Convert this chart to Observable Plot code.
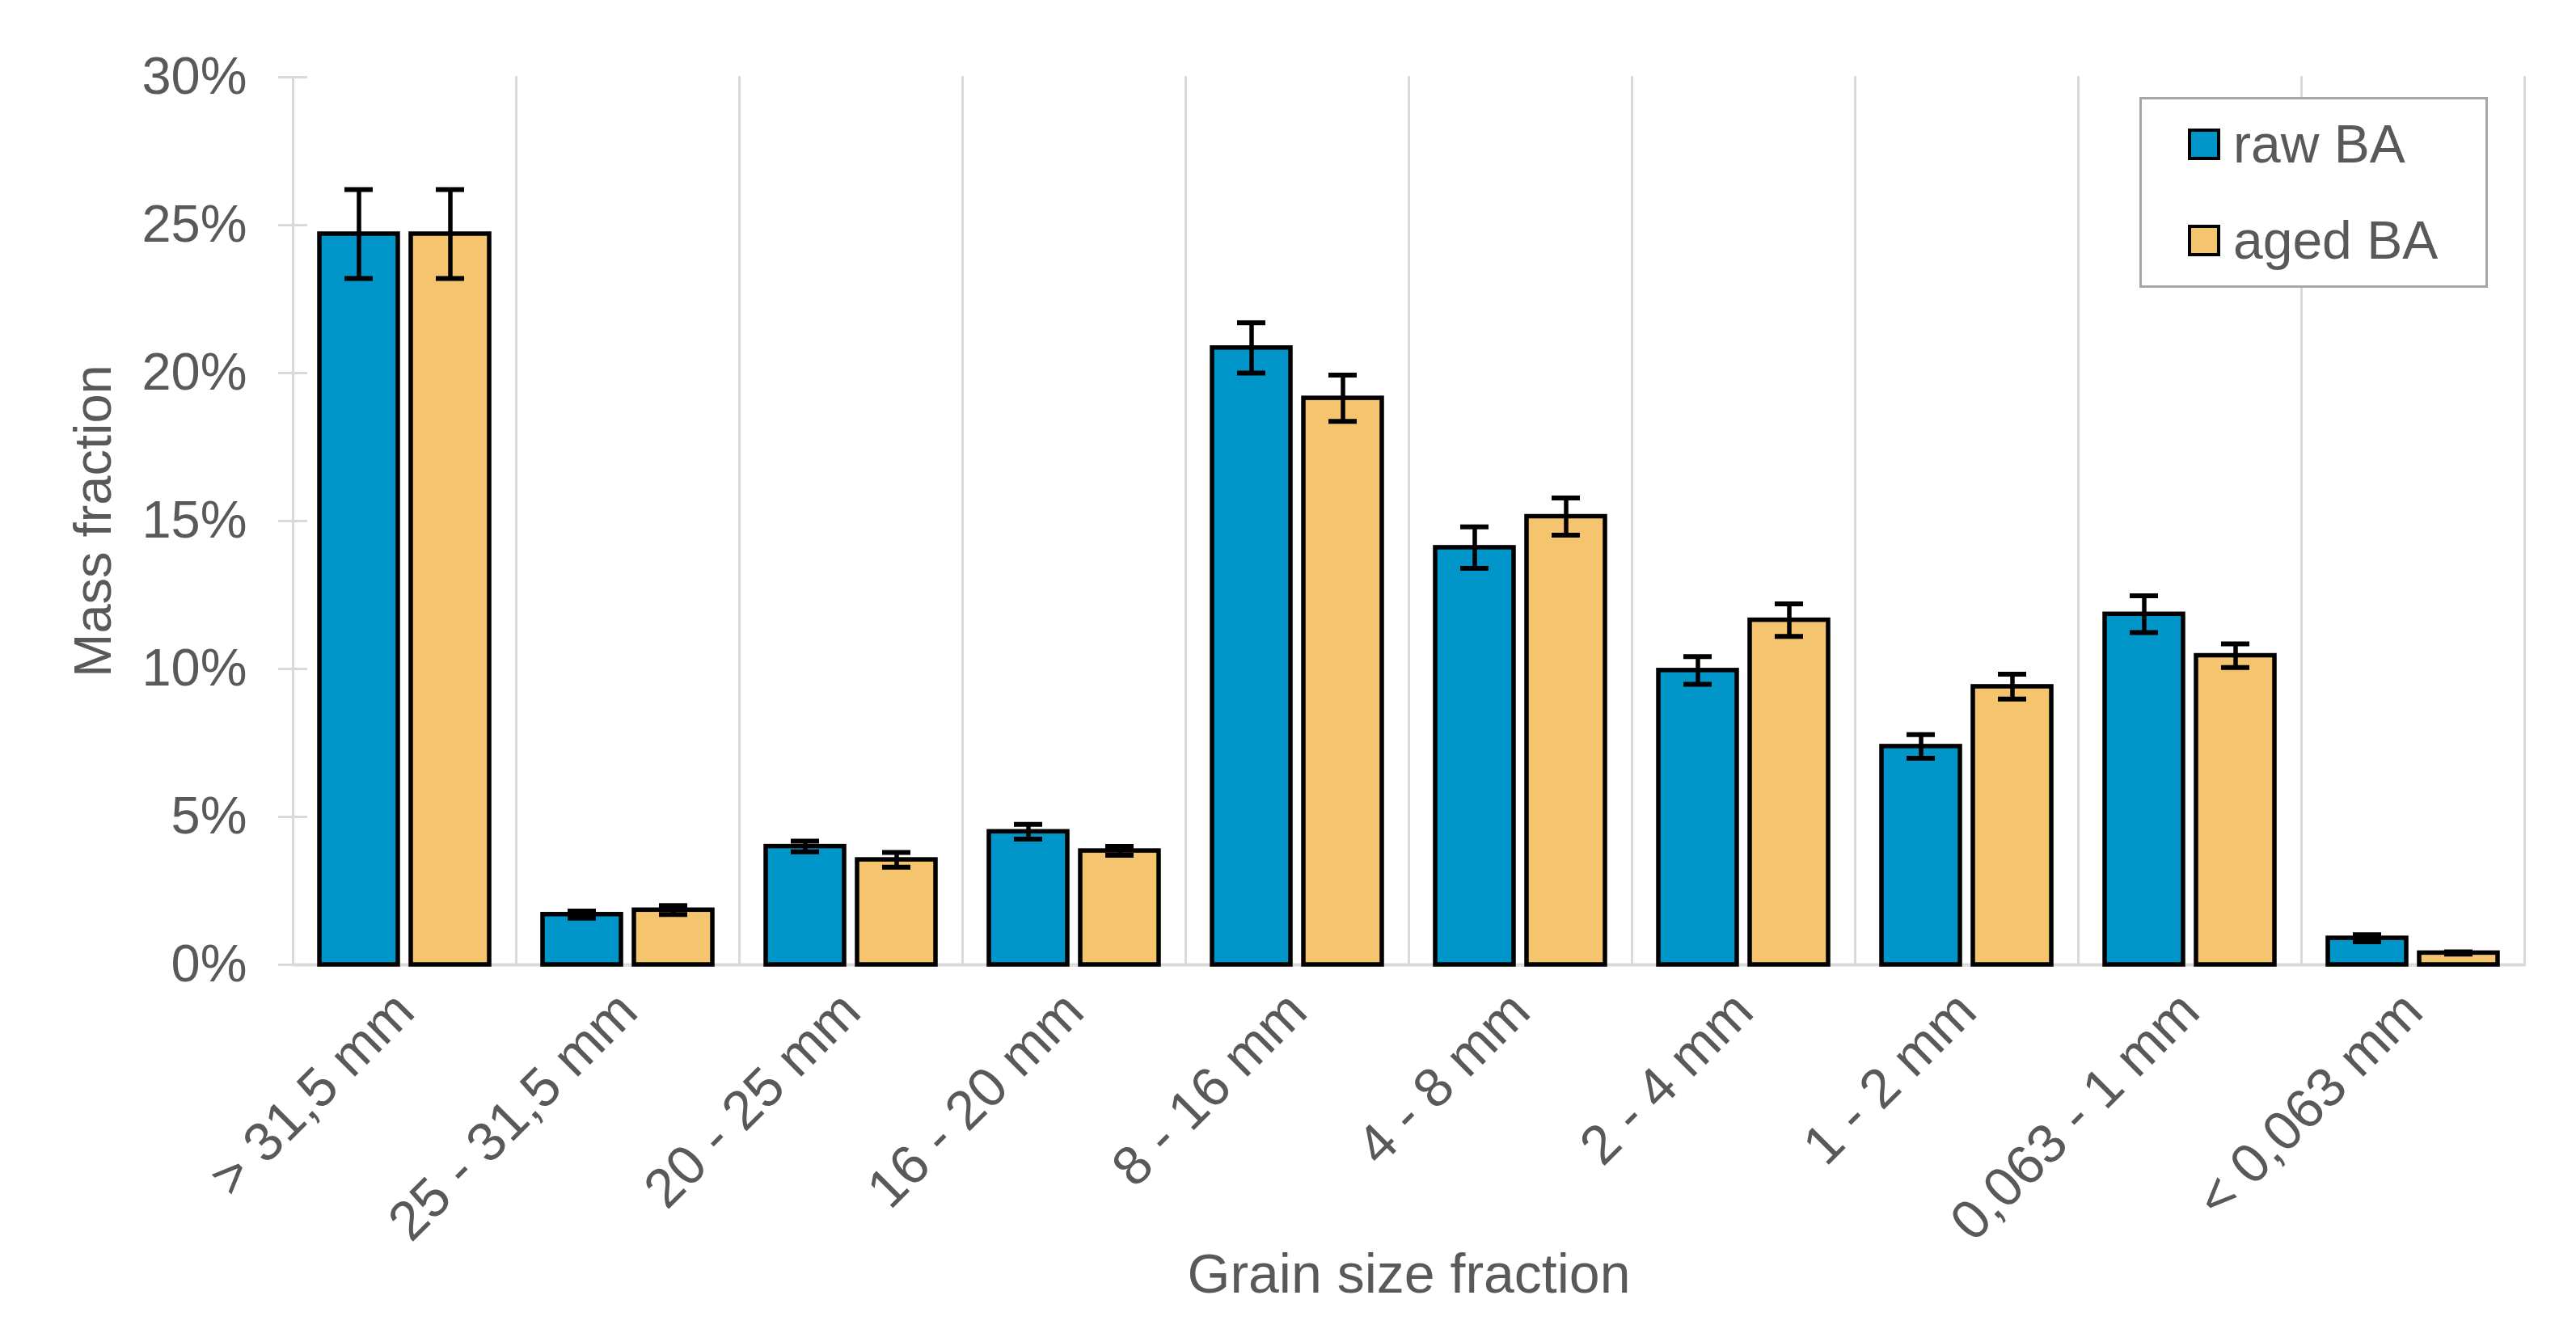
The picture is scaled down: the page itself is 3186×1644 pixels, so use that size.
<!DOCTYPE html>
<html>
<head>
<meta charset="utf-8">
<script src="https://cdn.jsdelivr.net/npm/d3@7"></script>
<script src="https://cdn.jsdelivr.net/npm/@observablehq/plot@0.6"></script>
<style>
  body { margin: 0; background: #fff; }
  #wrap { position: relative; width: 3186px; height: 1644px; }
  .legend { position: absolute; left: 2646px; top: 120px; width: 425px; height: 230px;
    border: 3px solid #a6a6a6; background: #fff;
    font-family: "Liberation Sans", Arial, sans-serif; font-size: 66px; color: #595959; }
  .row { position: absolute; left: 57px; height: 66px; line-height: 66px; white-space: nowrap; }
  .sw { position: absolute; left: 0; width: 32px; height: 31px; border: 4px solid #000; }
  .lbl { position: absolute; left: 56px; top: 0; }
</style>
</head>
<body>
<div id="wrap"></div>
<script>
const categories = ["> 31,5 mm", "25 - 31,5 mm", "20 - 25 mm", "16 - 20 mm", "8 - 16 mm",
                    "4 - 8 mm", "2 - 4 mm", "1 - 2 mm", "0,063 - 1 mm", "< 0,063 mm"];
const series = ["raw BA", "aged BA"];
const seriesColors = ["#0096C9", "#F5C46E"];
const rawValues  = [24.7, 1.7, 4.0, 4.5, 20.85, 14.1, 9.95, 7.38, 11.85, 0.9];
const rawErrors  = [1.5, 0.12, 0.18, 0.25, 0.85, 0.7, 0.47, 0.4, 0.62, 0.12];
const agedValues = [24.7, 1.85, 3.55, 3.85, 19.15, 15.15, 11.65, 9.4, 10.45, 0.4];
const agedErrors = [1.5, 0.15, 0.25, 0.15, 0.78, 0.63, 0.55, 0.42, 0.4, 0.04];
const yTicks = [0, 5, 10, 15, 20, 25, 30];

const valuesBySeries = {"raw BA": [rawValues, rawErrors], "aged BA": [agedValues, agedErrors]};
const data = series.flatMap(s => categories.map((c, i) => ({
  category: c, series: s, value: valuesBySeries[s][0][i], err: valuesBySeries[s][1][i]
})));

const chart = Plot.plot({
  width: 3186,
  height: 1644,
  marginLeft: 362,
  marginRight: 64,
  marginTop: 95,
  marginBottom: 451,
  style: {fontFamily: "'Liberation Sans', Arial, sans-serif", fontSize: "66px", background: "white"},
  fx: {domain: categories, padding: 0},
  x: {domain: series, paddingInner: 0.143, paddingOuter: 0.286, axis: null},
  y: {domain: [0, 30]},
  color: {domain: series, range: seriesColors},
  marks: [
    Plot.frame({anchor: "left", stroke: "#d9d9d9", strokeWidth: 3}),
    Plot.frame({anchor: "right", stroke: "#d9d9d9", strokeWidth: 3}),
    Plot.ruleY([0], {stroke: "#d9d9d9", strokeWidth: 4}),
    Plot.barY(data, {fx: "category", x: "series", y: "value", fill: "series", stroke: "black", strokeWidth: 5.5}),
    Plot.ruleX(data, {fx: "category", x: "series", y1: d => d.value - d.err, y2: d => d.value + d.err, stroke: "black", strokeWidth: 5.5}),
    Plot.tickY(data, {fx: "category", x: "series", y: d => d.value - d.err, stroke: "black", strokeWidth: 6, insetLeft: 31, insetRight: 31}),
    Plot.tickY(data, {fx: "category", x: "series", y: d => d.value + d.err, stroke: "black", strokeWidth: 6, insetLeft: 31, insetRight: 31}),
    Plot.axisY({ticks: yTicks, tickFormat: d => d + "%", tickSize: 36, dx: 18, tickPadding: 39,
      stroke: "#d9d9d9", strokeWidth: 3, fill: "#595959", fontSize: 65,
      label: "Mass fraction", labelArrow: "none", labelAnchor: "center", labelOffset: 272}),
    Plot.axisFx({anchor: "bottom", tickRotate: -45, tickSize: 0, tickPadding: 46, fill: "#595959", fontSize: 68,
      label: "Grain size fraction", labelArrow: "none", labelAnchor: "center", labelOffset: 405})
  ]
});
const wrap = document.getElementById("wrap");
wrap.appendChild(chart);

const legend = document.createElement("div");
legend.className = "legend";
series.forEach((s, i) => {
  const row = document.createElement("div");
  row.className = "row";
  row.style.top = (i === 0 ? 22 : 141) + "px";
  const sw = document.createElement("span");
  sw.className = "sw";
  sw.style.background = seriesColors[i];
  sw.style.top = "14px";
  const lbl = document.createElement("span");
  lbl.className = "lbl";
  lbl.textContent = s;
  row.appendChild(sw);
  row.appendChild(lbl);
  legend.appendChild(row);
});
wrap.appendChild(legend);
</script>
</body>
</html>
